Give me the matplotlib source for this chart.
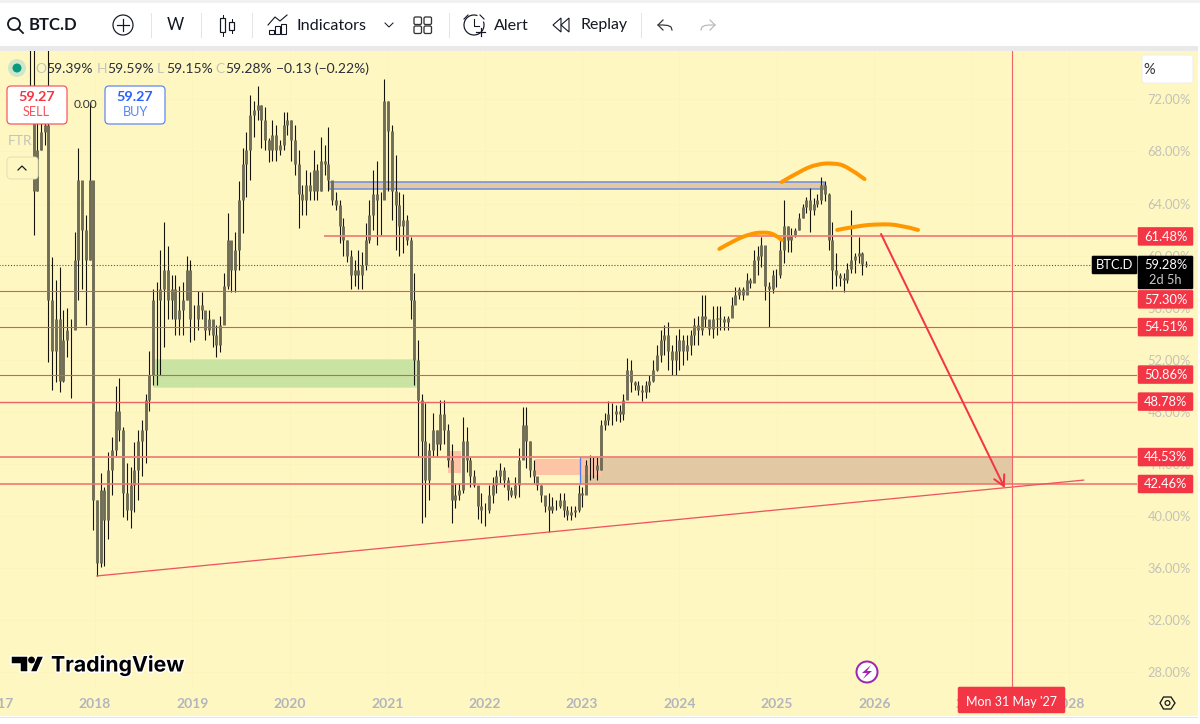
import numpy as np
import matplotlib
matplotlib.use("Agg")
import matplotlib.pyplot as plt
import matplotlib.patheffects as pe
from matplotlib.patches import Rectangle, Circle, FancyBboxPatch, PathPatch, Polygon, Arc
from matplotlib.path import Path

plt.rcParams['font.family'] = ['Lato', 'DejaVu Sans']

# two-week bars (percent)
first_bar_year = 2017.33
bar_step_years = 14 / 365.25

highs = [76.5, 76.5, 71.9, 71.9, 71.9, 76.5, 59.9, 58.1, 59.1, 55.8, 56.0, 55.1, 61.8, 68.3, 64.7,
         63.1, 71.7, 58.9, 41.2, 43.3, 42.2, 44.9, 46.1, 50.0, 50.6, 46.8, 44.1, 43.8, 45.7, 46.6,
         47.4, 49.4, 52.7, 57.4, 58.0, 60.4, 62.6, 60.7, 58.5, 58.5, 57.7, 58.0, 60.0, 59.7, 56.2,
         57.3, 57.2, 55.4, 55.8, 54.7, 54.7, 55.4, 58.7, 63.3, 60.4, 61.8, 65.7, 68.3, 69.5, 72.3,
         71.9, 73.0, 71.6, 71.4, 69.0, 70.4, 70.0, 68.9, 71.0, 71.0, 70.4, 70.0, 68.1, 65.4, 66.6,
         66.4, 68.1, 67.0, 69.1, 68.5, 69.9, 65.0, 64.9, 64.3, 62.9, 61.2, 60.4, 59.7, 60.4, 60.3,
         62.5, 64.3, 66.6, 67.3, 64.9, 73.6, 71.9, 70.0, 67.7, 64.9, 64.7, 63.1, 61.4, 58.7, 53.5,
         49.4, 48.7, 45.6, 47.9, 46.6, 48.9, 48.9, 47.1, 45.5, 42.5, 42.5, 47.6, 46.8, 44.5, 43.5,
         42.2, 41.8, 41.0, 42.4, 43.0, 43.5, 44.1, 43.8, 43.0, 42.2, 43.0, 45.2, 48.4, 48.4, 45.8,
         44.3, 43.0, 42.4, 41.2, 41.8, 41.5, 41.2, 41.8, 41.8, 40.8, 40.8, 40.8, 42.4, 42.2, 44.3,
         44.7, 44.5, 44.5, 47.4, 47.9, 48.8, 48.7, 48.5, 48.5, 49.4, 52.1, 52.0, 50.4, 50.4, 50.1,
         50.4, 50.8, 52.0, 53.1, 54.3, 54.7, 54.9, 53.1, 53.9, 54.4, 53.9, 53.9, 54.3, 55.2, 55.4,
         57.0, 57.0, 54.9, 56.1, 56.1, 56.1, 55.4, 55.4, 56.8, 57.6, 57.6, 57.6, 58.7, 58.3, 60.4,
         60.7, 61.4, 59.9, 58.0, 58.9, 59.0, 61.2, 64.3, 62.3, 62.1, 62.1, 63.3, 64.0, 64.5, 65.2,
         64.4, 64.7, 66.0, 65.7, 64.8, 62.6, 60.2, 58.7, 58.7, 59.4, 63.5, 60.2, 61.4, 60.3, 59.59]

lows = [70.4, 61.6, 65.0, 68.1, 68.5, 51.8, 49.7, 50.3, 49.5, 50.3, 52.2, 49.1, 55.1, 56.6, 57.4,
        54.7, 59.7, 38.9, 35.4, 36.1, 36.2, 38.2, 41.6, 44.6, 45.8, 39.9, 39.7, 39.1, 40.3, 41.2,
        43.1, 44.1, 48.1, 50.1, 50.1, 50.8, 53.0, 55.1, 55.1, 53.9, 53.9, 53.9, 56.6, 53.4, 53.5,
        54.3, 55.1, 53.5, 53.9, 53.0, 52.2, 52.6, 55.1, 57.4, 57.2, 57.2, 58.9, 61.7, 64.5, 65.8,
        69.1, 70.4, 68.3, 68.1, 67.2, 67.3, 67.3, 67.7, 68.1, 69.3, 67.3, 66.2, 62.1, 63.1, 63.1,
        64.3, 64.3, 64.3, 65.0, 66.2, 65.0, 63.9, 63.5, 61.0, 60.0, 59.5, 57.4, 57.7, 57.4, 57.4,
        58.9, 61.0, 62.0, 60.8, 61.6, 66.6, 65.0, 62.7, 60.4, 60.0, 60.2, 60.8, 55.1, 50.1, 44.5,
        39.5, 39.9, 41.2, 44.5, 44.5, 45.1, 45.5, 43.8, 39.5, 40.6, 41.2, 41.8, 43.4, 42.2, 42.2,
        39.8, 39.5, 39.2, 40.2, 41.0, 41.8, 42.5, 42.2, 41.2, 41.5, 41.4, 41.5, 45.2, 43.7, 43.0,
        42.5, 42.0, 41.1, 40.3, 38.8, 40.2, 40.5, 40.6, 39.9, 39.7, 39.7, 39.9, 40.3, 40.7, 42.0,
        42.8, 42.9, 42.8, 43.5, 46.6, 47.0, 47.0, 47.3, 47.2, 47.4, 49.3, 49.5, 49.7, 49.3, 48.8,
        49.1, 49.5, 50.3, 51.1, 51.8, 52.4, 51.2, 50.8, 50.8, 51.2, 51.6, 52.0, 52.4, 53.1, 53.1,
        53.9, 54.5, 53.9, 53.7, 53.9, 54.3, 54.3, 54.3, 55.3, 56.6, 56.7, 56.6, 57.1, 57.5, 58.4,
        58.5, 59.1, 56.6, 54.5, 57.1, 57.6, 58.3, 59.4, 60.3, 60.3, 61.4, 62.0, 62.9, 63.3, 61.8,
        63.1, 63.7, 64.0, 64.2, 60.4, 57.4, 57.7, 57.7, 57.2, 57.9, 58.7, 58.7, 59.4, 58.5, 59.15]

closes = [71.9, 65.0, 68.1, 69.5, 70.0, 56.6, 52.7, 55.1, 50.4, 53.5, 54.3, 54.3, 59.7, 65.8, 62.0,
          59.7, 65.8, 41.2, 36.4, 42.0, 39.7, 43.5, 45.1, 48.1, 46.6, 41.8, 40.5, 42.4, 43.5, 45.8,
          46.6, 48.9, 50.8, 56.6, 56.6, 57.4, 58.9, 56.6, 57.4, 55.1, 55.8, 56.6, 58.9, 55.1, 55.1,
          56.2, 55.8, 54.3, 55.1, 53.9, 53.1, 54.7, 57.7, 61.2, 58.9, 60.4, 64.3, 67.0, 68.1, 70.8,
          71.2, 71.6, 70.4, 68.9, 68.1, 69.3, 68.1, 68.5, 70.0, 70.4, 68.9, 67.0, 64.7, 64.3, 65.4,
          65.0, 66.6, 65.0, 67.3, 67.0, 65.8, 64.3, 63.9, 62.3, 61.2, 60.0, 58.5, 58.9, 58.5, 59.3,
          61.2, 63.1, 64.7, 64.3, 64.3, 71.9, 69.6, 65.0, 63.9, 62.3, 62.7, 61.2, 56.6, 52.0, 48.9,
          45.8, 42.8, 45.1, 46.6, 45.5, 47.8, 46.6, 44.3, 41.2, 41.6, 42.0, 45.8, 44.3, 43.1, 42.4,
          40.8, 40.5, 40.5, 41.6, 42.4, 43.1, 43.5, 42.8, 42.0, 41.6, 42.4, 44.3, 47.0, 45.8, 43.5,
          43.1, 42.4, 41.6, 40.8, 40.5, 40.8, 40.8, 41.2, 40.5, 40.1, 40.3, 40.5, 41.8, 41.6, 43.9,
          43.9, 43.9, 43.5, 47.0, 47.4, 47.8, 47.8, 48.1, 47.8, 48.9, 51.2, 50.3, 50.1, 49.7, 49.5,
          50.1, 50.4, 51.2, 52.4, 53.5, 53.9, 52.7, 52.0, 52.7, 53.5, 52.7, 53.1, 53.9, 54.7, 54.3,
          55.4, 55.1, 54.4, 55.1, 55.2, 55.1, 54.9, 55.2, 56.2, 57.0, 57.4, 57.0, 58.1, 57.9, 59.7,
          60.0, 60.8, 57.7, 57.4, 58.5, 58.5, 60.4, 62.3, 61.2, 61.6, 62.0, 62.9, 63.7, 64.3, 63.5,
          64.0, 64.3, 65.4, 64.7, 61.2, 58.9, 58.5, 58.3, 58.1, 59.0, 59.7, 60.0, 60.2, 59.39, 59.28]

# drawn levels: value, first year, line width in px, colour
level_values = [61.48, 57.30, 54.51, 50.86, 48.78, 44.53, 42.46]
level_starts = [2020.35, 2016.8, 2016.8, 2016.8, 2016.8, 2016.8, 2016.8]
level_widths = [1.8, 1.1, 1.1, 1.1, 1.4, 1.8, 1.6]
level_colors = ['#f08078', '#e9545a', '#e9545a', '#e9545a', '#ec6468', '#f08078', '#ee7470']
level_labels = ['61.48%', '57.30%', '54.51%', '50.86%', '48.78%', '44.53%', '42.46%']

price_ticks = [28, 32, 36, 40, 44, 48, 52, 56, 60, 64, 68, 72]
year_ticks = list(range(2017, 2029))

# zones: year start, year end, value low, value high
zone_blue = (2020.40, 2025.48, 65.12, 65.65)
zone_green = (2018.60, 2021.30, 49.90, 52.06)
zone_salmon_a = (2021.62, 2021.76, 43.30, 45.00)
zone_salmon_b = (2022.52, 2023.19, 43.15, 44.38)
zone_tan = (2022.99, 2027.41, 42.46, 44.53)
blue_mark_year = 2022.98

trend_years = [2018.02, 2028.15]
trend_values = [35.40, 42.76]

arrow_years = [2026.07, 2027.34]
arrow_values = [61.66, 42.15]

orange_a_years = [2025.05, 2025.24, 2025.41, 2025.58, 2025.72, 2025.90]
orange_a_values = [65.65, 66.50, 67.03, 67.11, 66.88, 65.88]
orange_b_years = [2024.41, 2024.55, 2024.72, 2024.86, 2024.98, 2025.05]
orange_b_values = [60.51, 61.12, 61.66, 61.81, 61.66, 61.20]
orange_c_years = [2025.62, 2025.82, 2026.06, 2026.27, 2026.45]
orange_c_values = [61.97, 62.27, 62.43, 62.35, 61.97]

last_price = 59.28
cursor_year = 2027.41

YELLOW = '#fff7c2'
RED = '#f23645'
GREY = '#b2b5be'
ORANGE = '#ff9800'
TEXT_SIZE = 10
LABEL_SIZE = 9.3


def px(n):
    # pixels to points at dpi 100
    return n * 0.72


def smooth_line(ax, xs, ys):
    # quadratic segments through midpoints of the read points
    verts = [(xs[0], ys[0])]
    codes = [Path.MOVETO]
    for i in range(1, len(xs) - 1):
        verts.append((xs[i], ys[i]))
        codes.append(Path.CURVE3)
        if i < len(xs) - 2:
            verts.append(((xs[i] + xs[i + 1]) / 2, (ys[i] + ys[i + 1]) / 2))
        else:
            verts.append((xs[-1], ys[-1]))
        codes.append(Path.CURVE3)
    ax.add_patch(PathPatch(Path(verts, codes), fill=False, edgecolor=ORANGE, lw=px(4),
                           capstyle='round', joinstyle='round', zorder=4))


def zone(ax, z, color, **kw):
    ax.add_patch(Rectangle((z[0], z[2]), z[1] - z[0], z[3] - z[2], facecolor=color, zorder=1, **kw))


def round_box(ui, x0, y0, x1, y1, fc, ec, lw=1.2, r=4, zorder=6):
    ui.add_patch(FancyBboxPatch((x0 + r, y0 + r), x1 - x0 - 2 * r, y1 - y0 - 2 * r,
                                boxstyle=f'round,pad={r},rounding_size={r}', fc=fc, ec=ec, lw=px(lw),
                                zorder=zorder))


def draw_toolbar(ui):
    ui.add_patch(Rectangle((0, 0), 1200, 3, fc='#f1f1f1', ec='none', zorder=5))
    ui.add_patch(Rectangle((0, 3), 1200, 43, fc='white', ec='none', zorder=5))
    ui.add_patch(Rectangle((0, 46), 1200, 5, fc='#e9e9e9', ec='none', zorder=5))
    ink = '#131722'
    # search
    ui.add_patch(Circle((14, 24), 6, fc='none', ec=ink, lw=px(1.8), zorder=6))
    ui.plot([18.5, 23], [28.5, 33], color=ink, lw=px(1.8), zorder=6)
    ui.text(29, 25.5, 'BTC.D', fontsize=12, fontweight='bold', color=ink, va='center', zorder=6)
    # add symbol
    ui.add_patch(Circle((123, 25), 10, fc='none', ec=ink, lw=px(1.2), zorder=6))
    ui.plot([117, 129], [25, 25], color=ink, lw=px(1.2), zorder=6)
    ui.plot([123, 123], [19, 31], color=ink, lw=px(1.2), zorder=6)
    for sx in [150.5, 200.5, 251.5, 448.5, 640.5]:
        ui.plot([sx, sx], [13, 37], color='#e4e4e4', lw=px(1), zorder=6)
    ui.text(175, 25.5, 'W', fontsize=12, color=ink, ha='center', va='center', zorder=6)
    # candles
    ui.plot([222.5, 222.5], [15, 36], color=ink, lw=px(1), zorder=6)
    ui.add_patch(Rectangle((220, 18), 5, 14, fc='white', ec=ink, lw=px(1.2), zorder=7))
    ui.plot([231.5, 231.5], [19, 33], color=ink, lw=px(1), zorder=6)
    ui.add_patch(Rectangle((229, 22), 5, 8, fc='white', ec=ink, lw=px(1.2), zorder=7))
    # indicators
    ui.plot([268, 275, 280, 287], [25, 17, 21, 15], color=ink, lw=px(1.1), zorder=6)
    for bx, by in [(269, 30), (275, 26), (281, 24)]:
        ui.add_patch(Rectangle((bx, by), 5, 34 - by, fc='white', ec=ink, lw=px(1.1), zorder=6))
    ui.text(297, 25.5, 'Indicators', fontsize=11.6, color=ink, va='center', zorder=6)
    ui.plot([385, 389, 393], [23, 27, 23], color=ink, lw=px(1), zorder=6)
    # layouts
    for gx in [414, 424]:
        for gy in [17, 26]:
            round_box(ui, gx, gy, gx + 7.5, gy + 7.5, 'white', '#333333', lw=1.3, r=1.5)
    # alert
    ui.add_patch(Arc((474, 25), 20, 20, theta1=-20, theta2=290, ec=ink, lw=px(1.2), zorder=6))
    ui.plot([474, 474, 479], [19, 26, 26], color=ink, lw=px(1.1), zorder=6)
    ui.plot([464, 468], [19, 15], color=ink, lw=px(1.1), zorder=6)
    ui.plot([480, 484], [15, 19], color=ink, lw=px(1.1), zorder=6)
    ui.plot([476, 485], [32, 32], color=ink, lw=px(1.2), zorder=6)
    ui.plot([480.5, 480.5], [27.5, 36], color=ink, lw=px(1.2), zorder=6)
    ui.text(494, 25.5, 'Alert', fontsize=11.6, color=ink, va='center', zorder=6)
    # replay
    ui.add_patch(Polygon([(561, 18), (561, 32), (553, 25)], closed=True, fc='white', ec=ink, lw=px(1.1), zorder=6))
    ui.add_patch(Polygon([(569, 18), (569, 32), (561, 25)], closed=True, fc='white', ec=ink, lw=px(1.1), zorder=6))
    ui.text(580, 25.5, 'Replay', fontsize=11.4, color=ink, va='center', zorder=6)
    # undo and redo
    for x0, sign, col in [(665, 1, '#333333'), (708, -1, '#b8b8b8')]:
        ui.plot([x0 - 7 * sign, x0 - 2 * sign, x0 + 3 * sign, x0 + 6 * sign, x0 + 7 * sign],
                [25, 25, 25.5, 27, 30], color=col, lw=px(1.2), zorder=6)
        ui.plot([x0 - 2 * sign, x0 - 7 * sign, x0 - 2 * sign], [20, 25, 30], color=col, lw=px(1.2), zorder=6)


def draw_legend(ui):
    ui.add_patch(Circle((17, 68), 9, fc='#cfe6c8', ec='none', zorder=6))
    ui.add_patch(Circle((17, 68), 4.5, fc='#089981', ec='none', zorder=7))
    faint = '#c4c4b8'
    ink = '#2a2e39'
    for x, txt, col in [(35, 'O', faint), (46, '59.39%', ink), (97, 'H', faint), (107, '59.59%', ink),
                        (157, 'L', faint), (166, '59.15%', ink), (215, 'C', faint), (225, '59.28%', ink),
                        (276, '\u22120.13 (\u22120.22%)', ink)]:
        ui.text(x, 69, txt, fontsize=TEXT_SIZE, color=col, va='center', zorder=6)
    round_box(ui, 7, 86, 67, 124, 'white', '#f7525f', lw=1.2)
    ui.text(36.5, 97, '59.27', fontsize=10.4, fontweight='bold', color=RED, ha='center', va='center', zorder=7)
    ui.text(36.5, 112, 'SELL', fontsize=9.2, color='#f7525f', ha='center', va='center', zorder=7)
    round_box(ui, 105, 86, 165, 124, 'white', '#5b84f0', lw=1.2)
    ui.text(135, 97, '59.27', fontsize=10.4, fontweight='bold', color='#2962ff', ha='center', va='center', zorder=7)
    ui.text(135, 112, 'BUY', fontsize=9.2, color='#5b84f0', ha='center', va='center', zorder=7)
    ui.text(86, 104, '0.00', fontsize=8.6, color='#333333', ha='center', va='center', zorder=6)
    ui.text(8, 141, 'FTR', fontsize=TEXT_SIZE, color='#c4c4b8', va='center', zorder=6)
    round_box(ui, 7, 157, 38, 179, YELLOW, '#e4e0b8', lw=1)
    ui.plot([18, 22, 26], [170, 166, 170], color='#131722', lw=px(1.2), zorder=7)


def draw_price_labels(ui, ax):
    def price_y(value):
        return ui.transData.inverted().transform(ax.transData.transform((2020, value)))[1]

    for value, label in zip(level_values, level_labels):
        cy = price_y(value)
        if label == '57.30%':
            cy += 8.5
        round_box(ui, 1138, cy - 9, 1193, cy + 9, RED, RED, lw=0.5, r=1, zorder=6)
        ui.text(1165.5, cy + 0.3, label, fontsize=LABEL_SIZE, color='white', ha='center', va='center', zorder=7)
    cy = price_y(last_price)
    round_box(ui, 1092, cy - 9, 1137, cy + 9, '#000000', '#000000', lw=0.5, r=1)
    ui.text(1114.5, cy + 0.3, 'BTC.D', fontsize=9.3, color='white', ha='center', va='center', zorder=7)
    round_box(ui, 1138, cy - 9, 1193, cy + 24, '#000000', '#000000', lw=0.5, r=1)
    ui.text(1165.5, cy + 0.3, '59.28%', fontsize=LABEL_SIZE, color='white', ha='center', va='center', zorder=7)
    ui.text(1165.5, cy + 15, '2d 5h', fontsize=LABEL_SIZE, color='#c8c8c8', ha='center', va='center', zorder=7)
    # scale mode button
    round_box(ui, 1142, 55, 1193, 83, 'white', '#eeeeee', lw=1, r=3)
    ui.text(1149.5, 69.5, '%', fontsize=10.5, color='#333333', ha='center', va='center', zorder=7)


def draw_footer(ui):
    ui.add_patch(Rectangle((0, 716), 1200, 8, fc='white', ec='none', zorder=5))
    ui.plot([0, 1200], [716.5, 716.5], color='#e4e4ec', lw=px(1), zorder=5)
    ui.add_patch(Rectangle((1198, 46), 2, 678, fc='white', ec='none', zorder=5))
    # date label
    round_box(ui, 958, 687, 1065, 713, RED, RED, lw=0.5, r=1.5)
    ui.text(1011.5, 702, "Mon 31 May '27", fontsize=9, color='white', ha='center', va='center', zorder=7)
    # logo
    halo = [pe.withStroke(linewidth=px(3), foreground='white')]
    for pts in ([(11, 656), (28, 656), (28, 672), (20, 672), (20, 664), (11, 664)],
                [(30, 672), (37, 656), (44, 656), (37, 672)]):
        ui.add_patch(Polygon(pts, closed=True, fc='#000000', ec='white', lw=px(1.5), zorder=6))
    ui.add_patch(Circle((31.5, 660), 3.4, fc='#000000', ec='none', zorder=7))
    ui.text(51, 665, 'TradingView', fontfamily='Inter', fontsize=15.3, fontweight='bold', color='#000000',
            va='center', path_effects=halo, zorder=6)
    # bolt
    ui.add_patch(Circle((867, 672), 10.5, fc='white', ec='#9c27b0', lw=px(2), zorder=6))
    ui.add_patch(Polygon([(871, 665), (862, 673), (867, 673), (863, 679), (872, 671), (867, 671)],
                         closed=True, fc='#9c27b0', ec='none', zorder=7))
    # settings hexagon
    ui.add_patch(Polygon([(1160, 703), (1163.5, 697), (1171, 697), (1175, 703), (1171, 709), (1163.5, 709)],
                         closed=True, fc='none', ec='#131722', lw=px(1.3), zorder=6))
    ui.add_patch(Circle((1167.5, 703), 2.4, fc='none', ec='#131722', lw=px(1.2), zorder=6))


fig = plt.figure(figsize=(12, 7.24), dpi=100, facecolor=YELLOW)
ax = fig.add_axes([-20 / 1200, 34 / 724, 1157 / 1200, 640 / 724], facecolor=YELLOW)
ax.set_xlim(2016.819, 2028.698)
ax.set_ylim(26.64, 75.79)
for side in ax.spines.values():
    side.set_visible(False)

ax.yaxis.tick_right()
ax.set_yticks(price_ticks)
ax.set_yticklabels([f'{p:.2f}%' for p in price_ticks], color='#c2c2b8', fontsize=LABEL_SIZE)
ax.set_xticks(year_ticks)
ax.set_xticklabels([str(y) for y in year_ticks], color=GREY, fontsize=TEXT_SIZE, fontweight='bold')
ax.tick_params(axis='y', length=0, pad=7.5)
ax.tick_params(axis='x', length=0, pad=5.5)
ax.grid(True, color='#fdf4bc', lw=0.7, zorder=0)
ax.set_axisbelow(True)

zone(ax, zone_tan, '#e3c9a3', edgecolor='none')
zone(ax, zone_green, '#c9e3a2', edgecolor='#d6e8b4', lw=0.5)
zone(ax, zone_salmon_a, '#fdc5a6', edgecolor='none')
zone(ax, zone_salmon_b, '#fdc5a6', edgecolor='none')
zone(ax, zone_blue, '#e3c9a3', edgecolor='#6f90e0', lw=px(1.6))
ax.plot([blue_mark_year] * 2, [42.46, 44.53], color='#4f7df0', lw=px(1.3), zorder=3)

bar_years = first_bar_year + np.arange(len(closes)) * bar_step_years
opens = np.array([closes[0]] + closes[:-1])
ax.vlines(bar_years, lows, highs, color='#14140c', lw=px(1.1), zorder=2)
ax.vlines(bar_years, np.minimum(opens, closes), np.maximum(opens, closes), color='#6f6d55', lw=px(2.9), zorder=2.5)

ax.plot([2016.82, 2028.236], [last_price, last_price], color='#55554a', lw=px(1.1), ls=(0, (1, 1.6)), zorder=3)
for value, start, width, color in zip(level_values, level_starts, level_widths, level_colors):
    ax.plot([start, 2028.698], [value, value], color=color, lw=px(width), zorder=3, solid_capstyle='butt')
ax.plot(trend_years, trend_values, color='#ee5560', lw=px(1.3), zorder=3)
ax.plot([cursor_year, cursor_year], [26.7, 75.79], color='#ee6468', lw=px(1.1), zorder=3)
ax.annotate('', xy=(arrow_years[1], arrow_values[1]), xytext=(arrow_years[0], arrow_values[0]),
            arrowprops=dict(arrowstyle='->,head_length=0.75,head_width=0.4', color=RED, lw=px(2),
                            shrinkA=0, shrinkB=0, mutation_scale=10), zorder=4)
smooth_line(ax, orange_a_years, orange_a_values)
smooth_line(ax, orange_b_years, orange_b_values)
smooth_line(ax, orange_c_years, orange_c_values)

# overlay in pixel units for the app chrome
ui = fig.add_axes([0, 0, 1, 1], facecolor='none')
ui.set_xlim(0, 1200)
ui.set_ylim(724, 0)
ui.axis('off')
draw_toolbar(ui)
draw_legend(ui)
draw_price_labels(ui, ax)
draw_footer(ui)

fig.savefig('out.png', dpi=100, facecolor=YELLOW)
